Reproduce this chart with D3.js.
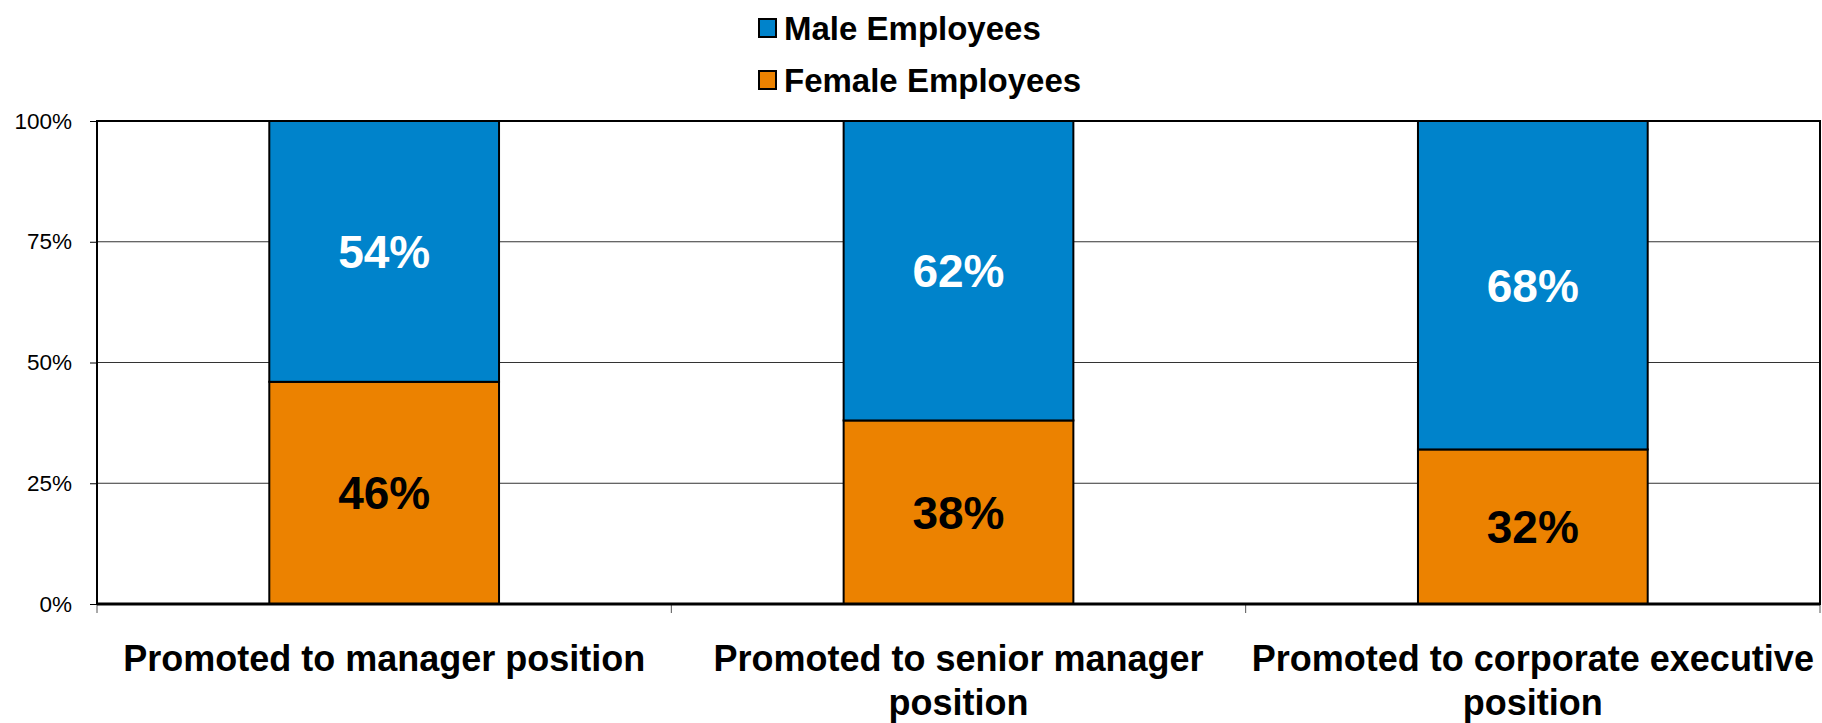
<!DOCTYPE html>
<html>
<head>
<meta charset="utf-8">
<script src="https://d3js.org/d3.v7.min.js"></script>
<style>
  body { margin: 0; background: #fff; }
  text { font-family: Arial, "Liberation Sans", sans-serif; }
</style>
</head>
<body>
<div id="chart"></div>
<script>

// chart data
var categories = ["Promoted to manager position", "Promoted to senior manager position", "Promoted to corporate executive position"];
var female = [46, 38, 32];
var male = [54, 62, 68];
var seriesNames = ["Male Employees", "Female Employees"];
var yTicks = [0, 25, 50, 75, 100];

var W = 1822, H = 723;
var margin = {top: 121, right: 2, bottom: 119, left: 97};
var width = W - margin.left - margin.right,
    height = H - margin.top - margin.bottom;

var blue = "#0083cb", orange = "#ec8200";

var svg = d3.select("#chart").append("svg")
  .attr("width", W)
  .attr("height", H);

var g = svg.append("g")
  .attr("transform", "translate(" + margin.left + "," + margin.top + ")");

var x = d3.scaleBand().domain(categories).range([0, width]).paddingInner(0.6).paddingOuter(0.3);
var y = d3.scaleLinear().domain([0, 100]).range([height, 0]);

// gridlines
g.selectAll(".grid")
  .data(yTicks.filter(function(d) { return d > 0 && d < 100; }))
  .enter().append("line")
    .attr("x1", 0).attr("x2", width)
    .attr("y1", function(d) { return y(d); })
    .attr("y2", function(d) { return y(d); })
    .style("stroke", "#333")
    .style("stroke-width", 1);

// y axis
var yAxis = g.append("g")
  .call(d3.axisLeft(y).tickValues(yTicks).tickFormat(function(d) { return d + "%"; }).tickSize(7).tickPadding(18));
yAxis.select(".domain").remove();
yAxis.selectAll("text").style("font-size", "22.5px").style("fill", "#000").attr("font-family", null);
yAxis.selectAll("line").style("stroke", "#000");

// x ticks at category boundaries
var step = x.step();
var bounds = [0, 1, 2, 3].map(function(i) { return i * width / 3; });
g.selectAll(".xtick")
  .data(bounds)
  .enter().append("line")
    .attr("x1", function(d) { return d; }).attr("x2", function(d) { return d; })
    .attr("y1", height).attr("y2", height + 9)
    .style("stroke", "#555")
    .style("stroke-width", 1);

// stacked bars
var rows = categories.map(function(c, i) { return {cat: c, female: female[i], male: male[i]}; });

var barG = g.selectAll(".bar").data(rows).enter().append("g");

barG.append("rect")
  .attr("x", function(d) { return x(d.cat); })
  .attr("width", x.bandwidth())
  .attr("y", function(d) { return y(d.female); })
  .attr("height", function(d) { return y(0) - y(d.female); })
  .style("fill", orange)
  .style("stroke", "#000")
  .style("stroke-width", 2);

barG.append("rect")
  .attr("x", function(d) { return x(d.cat); })
  .attr("width", x.bandwidth())
  .attr("y", function(d) { return y(d.female + d.male); })
  .attr("height", function(d) { return y(d.female) - y(d.female + d.male); })
  .style("fill", blue)
  .style("stroke", "#000")
  .style("stroke-width", 2);

// value labels
barG.append("text")
  .attr("x", function(d) { return x(d.cat) + x.bandwidth() / 2; })
  .attr("y", function(d) { return y(d.female / 2); })
  .attr("dy", "0.36em")
  .attr("text-anchor", "middle")
  .style("font-size", "46px")
  .style("font-weight", "bold")
  .style("fill", "#000")
  .text(function(d) { return d.female + "%"; });

barG.append("text")
  .attr("x", function(d) { return x(d.cat) + x.bandwidth() / 2; })
  .attr("y", function(d) { return y(d.female + d.male / 2); })
  .attr("dy", "0.36em")
  .attr("text-anchor", "middle")
  .style("font-size", "46px")
  .style("font-weight", "bold")
  .style("fill", "#fff")
  .text(function(d) { return d.male + "%"; });

// plot frame
g.append("rect")
  .attr("width", width).attr("height", height)
  .style("fill", "none")
  .style("stroke", "#000")
  .style("stroke-width", 2);
g.append("line")
  .attr("x1", 0).attr("x2", width)
  .attr("y1", height).attr("y2", height)
  .style("stroke", "#000")
  .style("stroke-width", 3);

// category labels, wrapped to the band width
var xl = g.selectAll(".xlabel").data(categories).enter().append("text")
  .attr("x", function(d) { return x(d) + x.bandwidth() / 2; })
  .attr("y", height + 67)
  .attr("text-anchor", "middle")
  .style("font-size", "36px")
  .style("font-weight", "bold")
  .style("fill", "#000");

xl.each(function(d) {
  var t = d3.select(this), words = d.split(" "), line = [];
  var ts = t.append("tspan").attr("x", t.attr("x")).attr("dy", 0);
  words.forEach(function(w) {
    line.push(w);
    ts.text(line.join(" "));
    if (ts.node().getComputedTextLength() > step && line.length > 1) {
      line.pop();
      ts.text(line.join(" "));
      line = [w];
      ts = t.append("tspan").attr("x", t.attr("x")).attr("dy", "1.22em").text(w);
    }
  });
});

// legend
var legend = svg.selectAll(".legend")
  .data(seriesNames)
  .enter().append("g")
    .attr("transform", function(d, i) { return "translate(759," + (19 + i * 52) + ")"; });

legend.append("rect")
  .attr("width", 17).attr("height", 18)
  .style("fill", function(d, i) { return i === 0 ? blue : orange; })
  .style("stroke", "#000")
  .style("stroke-width", 2);

legend.append("text")
  .attr("x", 25)
  .attr("y", 21)
  .style("font-size", "33px")
  .style("font-weight", "bold")
  .style("fill", "#000")
  .text(function(d) { return d; });

</script>
</body>
</html>
